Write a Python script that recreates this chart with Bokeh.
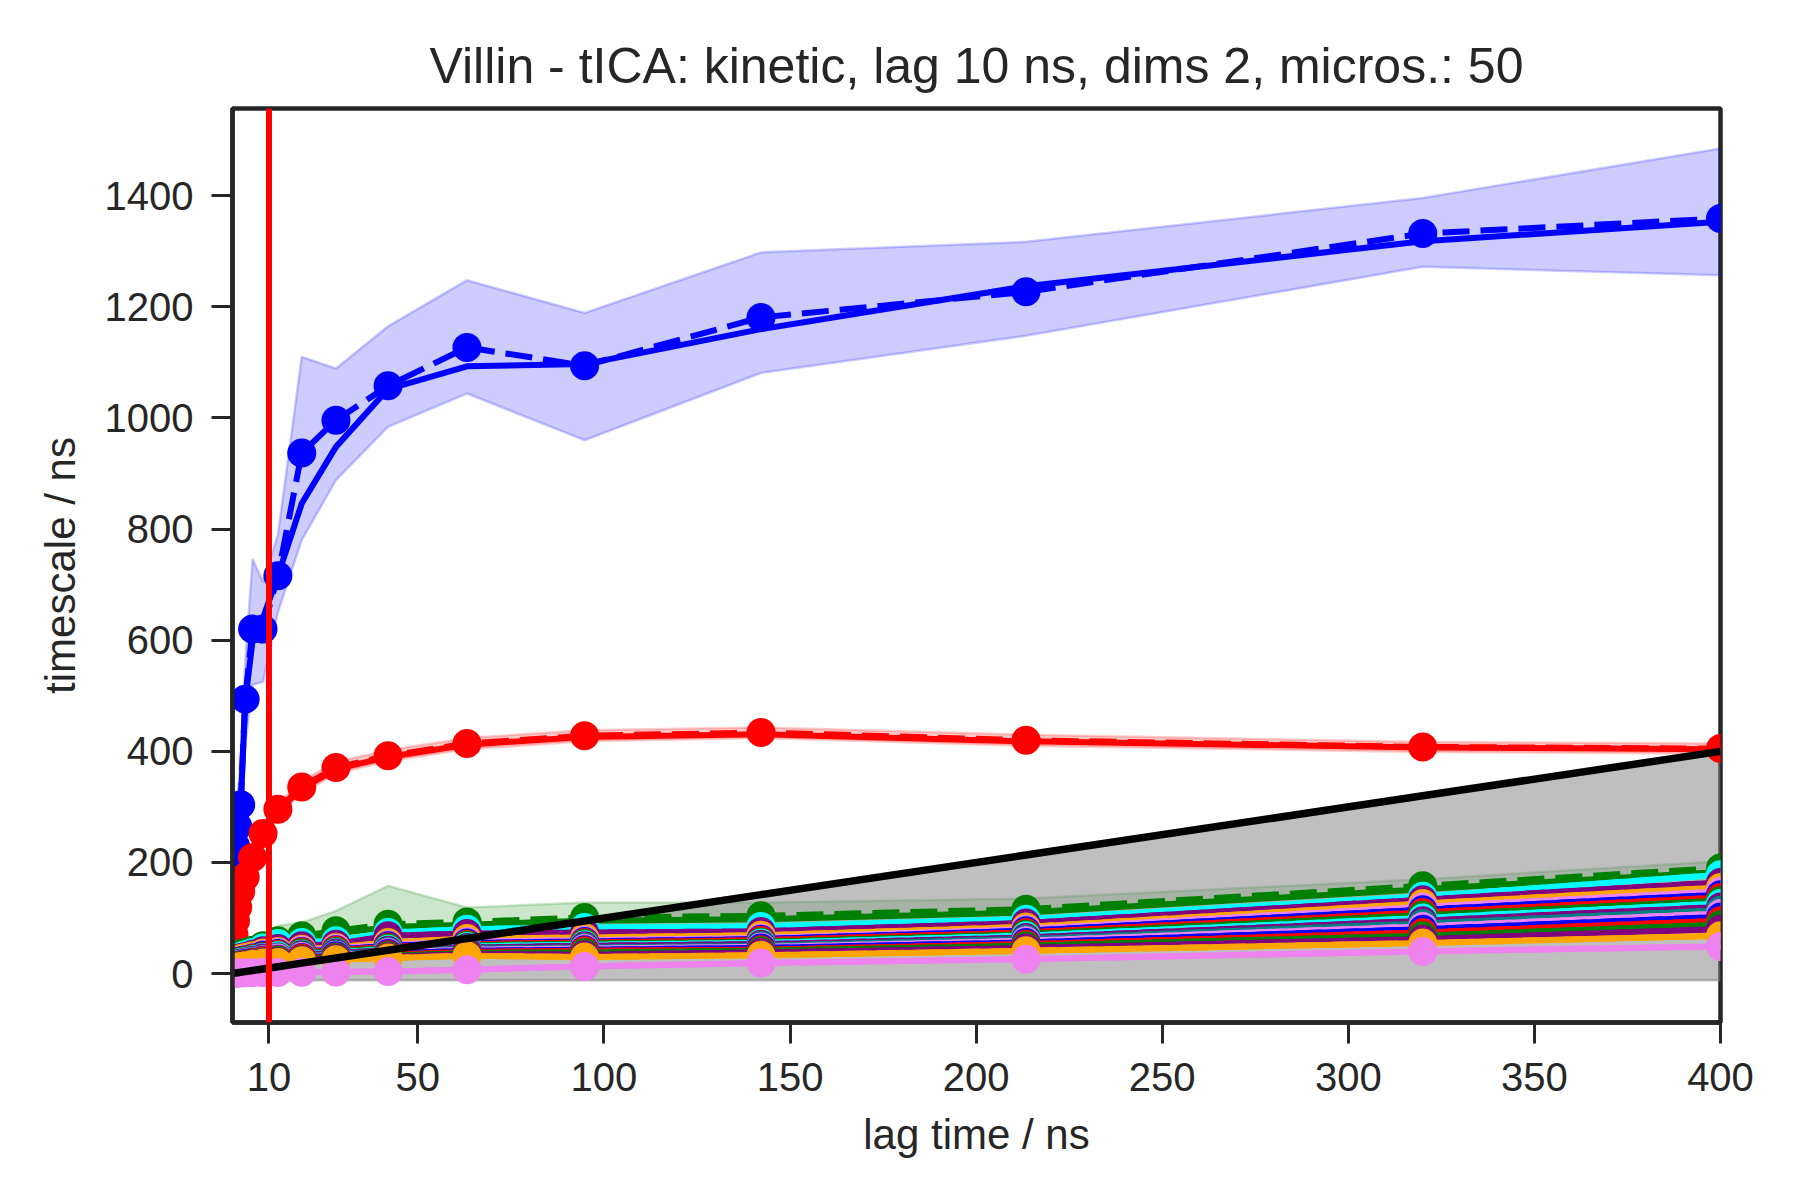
from bokeh.plotting import figure
from bokeh.models import Range1d, FixedTicker, Span
from bokeh.embed import file_html
from bokeh.resources import INLINE

# ---------------- data ----------------
LAGS = [0.2, 0.4, 0.6, 1.0, 1.6, 2.4, 3.6, 5.6, 8.4, 12.4, 18.8, 28.0, 42.0,
        63.2, 94.8, 142.2, 213.4, 320.0, 400.0]

BLUE_MEAN = [160, 180, 200, 230, 265, 304, 494, 620, 620, 716, 937, 996, 1058, 1127, 1094, 1181, 1227, 1332, 1359]
BLUE_MLE = [150, 172, 195, 225, 258, 300, 488, 600, 640, 716, 846, 948, 1052, 1093, 1097, 1160, 1237, 1318, 1353]
BLUE_LO = [110, 130, 150, 180, 205, 240, 410, 520, 525, 650, 780, 888, 984, 1044, 960, 1081, 1148, 1272, 1257]
BLUE_HI = [210, 230, 255, 285, 320, 380, 560, 746, 705, 790, 1110, 1089, 1165, 1248, 1189, 1298, 1317, 1396, 1485]

RED_MEAN = [25, 50, 70, 95, 120, 148, 174, 209, 252, 296, 336, 371, 392, 414, 428, 434, 420, 408, 405]
RED_MLE = [24, 48, 68, 93, 118, 146, 172, 207, 250, 293, 333, 368, 390, 412, 426, 431, 418, 407, 404]
RED_LO = [18, 42, 62, 86, 110, 138, 164, 198, 240, 284, 324, 360, 382, 404, 418, 424, 410, 399, 396]
RED_HI = [32, 58, 78, 104, 130, 158, 184, 220, 262, 306, 346, 381, 402, 424, 438, 443, 430, 417, 414]

GREEN_MEAN = [25, 28, 30, 32, 34, 36, 38, 42, 50, 59, 68, 77, 89, 93, 101, 104, 116, 158, 190]
GREEN_MLE = [24, 27, 29, 31, 33, 35, 37, 40, 47, 55, 63, 72, 84, 88, 95, 98, 110, 152, 183]
GREEN_LO = [15, 18, 20, 22, 24, 26, 28, 30, 33, 38, 45, 50, 55, 65, 75, 80, 90, 130, 160]
GREEN_HI = [35, 38, 41, 44, 46, 48, 52, 55, 55, 86, 92, 113, 158, 119, 128, 128, 135, 170, 202]

CYAN_TS = [20, 23, 25, 27, 29, 31, 34, 38, 46, 54, 56, 59, 74, 80, 83, 85, 98, 139, 178]
PURPLE_TS = [18, 21, 23, 25, 27, 29, 31, 35, 41, 45, 50, 53, 68, 72, 74, 76, 91, 133, 164]
ORANGE_TS = [16, 19, 21, 23, 25, 27, 29, 32, 37, 40, 44, 47, 56, 63, 65, 69, 84, 126, 155]

INNER_TS = [
    [14, 16, 18, 20, 22, 24, 26, 29, 34, 38, 42, 45, 52, 58, 60, 64, 80, 120, 148],
    [13, 15, 17, 19, 21, 23, 25, 28, 33, 36, 40, 43, 50, 55, 58, 62, 77, 115, 142],
    [13, 15, 16, 18, 20, 22, 24, 27, 31, 35, 39, 42, 48, 53, 56, 60, 74, 110, 137],
    [12, 14, 16, 17, 19, 21, 23, 26, 30, 33, 37, 40, 46, 51, 54, 57, 71, 105, 131],
    [12, 13, 15, 17, 18, 20, 22, 25, 29, 32, 35, 38, 44, 49, 52, 55, 68, 100, 126],
    [11, 13, 14, 16, 17, 19, 21, 24, 28, 30, 34, 37, 42, 47, 50, 53, 65, 95, 120],
    [10, 12, 14, 15, 17, 18, 20, 23, 26, 29, 32, 35, 40, 45, 47, 50, 62, 90, 114],
    [10, 11, 13, 14, 16, 17, 19, 22, 25, 28, 31, 33, 38, 43, 45, 48, 59, 85, 108],
    [9, 11, 12, 14, 15, 16, 18, 21, 24, 26, 29, 32, 36, 41, 43, 46, 56, 80, 102],
    [9, 10, 12, 13, 14, 16, 17, 20, 23, 25, 28, 30, 34, 39, 41, 43, 53, 74, 95],
    [8, 10, 11, 12, 14, 15, 16, 19, 21, 24, 26, 29, 32, 37, 38, 41, 50, 68, 88],
    [8, 9, 10, 12, 13, 14, 15, 18, 20, 22, 25, 27, 30, 35, 34, 38, 46, 62, 80],
    [7, 8, 10, 11, 12, 13, 14, 17, 19, 20, 23, 25, 28, 32, 30, 33, 41, 55, 68],
]
INNER_COLORS = ["violet", "blue", "red", "green", "cyan", "purple", "teal",
                "violet", "blue", "red", "green", "purple", "orange"]

LAST_TS = [0.3, 0.5, 0.6, 0.8, 1.0, 1.2, 1.4, 1.6, 1.8, 2.0, 2.5, 3.0, 4.0, 7.0, 13.0, 19.0, 26.0, 40.0, 49.0]

GRAY_BOTTOM = -12
CHOSEN_LAG = 10
X_TICKS = [10, 50, 100, 150, 200, 250, 300, 350, 400]
Y_TICKS = [0, 200, 400, 600, 800, 1000, 1200, 1400]

TITLE = "Villin - tICA: kinetic, lag 10 ns, dims 2, micros.: 50"
XLABEL = "lag time / ns"
YLABEL = "timescale / ns"

# ---------------- styling ----------------
FONT = "Liberation Sans"
TXT = "#262626"
LW = 6
MS = 29
DASH = "27 11"

p = figure(width=1784, height=1184, output_backend="svg", toolbar_location=None,
           x_range=Range1d(LAGS[0], LAGS[-1]), y_range=Range1d(-88, 1557),
           min_border_left=232, min_border_right=64, min_border_top=108,
           min_border_bottom=162, background_fill_color="white",
           border_fill_color="white")

p.title.text = TITLE
p.title.align = "center"
p.title.text_font = FONT
p.title.text_font_size = "50px"
p.title.text_font_style = "normal"
p.title.text_color = TXT
p.title.standoff = 30

p.xgrid.visible = False
p.ygrid.visible = False
p.outline_line_color = TXT
p.outline_line_width = 4.5
p.outline_line_alpha = 1.0

p.xaxis.ticker = FixedTicker(ticks=X_TICKS)
p.yaxis.ticker = FixedTicker(ticks=Y_TICKS)
for ax in (p.xaxis[0], p.yaxis[0]):
    ax.axis_line_color = TXT
    ax.axis_line_width = 4.5
    ax.major_tick_line_color = TXT
    ax.major_tick_line_width = 3
    ax.major_tick_out = 21
    ax.major_tick_in = 0
    ax.minor_tick_line_color = None
    ax.major_label_text_font = FONT
    ax.major_label_text_font_size = "40px"
    ax.major_label_text_color = TXT
    ax.axis_label_text_font = FONT
    ax.axis_label_text_font_size = "42px"
    ax.axis_label_text_font_style = "normal"
    ax.axis_label_text_color = TXT
p.xaxis.axis_label = XLABEL
p.yaxis.axis_label = YLABEL
p.xaxis.major_label_standoff = 19
p.xaxis.axis_label_standoff = 17
p.yaxis.major_label_standoff = 18
p.yaxis.axis_label_standoff = 18

# ---------------- confidence bands (under the lines) ----------------
for lo, hi, col in ((BLUE_LO, BLUE_HI, "blue"), (RED_LO, RED_HI, "red"),
                    (GREEN_LO, GREEN_HI, "green")):
    p.varea(x=LAGS, y1=lo, y2=hi, fill_color=col, fill_alpha=0.2)
    p.line(x=LAGS, y=lo, line_color=col, line_alpha=0.2, line_width=2.5)
    p.line(x=LAGS, y=hi, line_color=col, line_alpha=0.2, line_width=2.5)

# infeasible region (lag >= timescale)
p.varea(x=LAGS, y1=[GRAY_BOTTOM] * len(LAGS), y2=LAGS, fill_color="grey", fill_alpha=0.5)
p.line(x=LAGS, y=[GRAY_BOTTOM] * len(LAGS), line_color="grey", line_alpha=0.5, line_width=2.5)

# ---------------- timescale lines ----------------
def draw(mle, mean, col):
    p.line(x=LAGS, y=mle, line_color=col, line_width=LW, line_join="round")
    p.line(x=LAGS, y=mean, line_color=col, line_width=LW, line_dash=DASH, line_join="round")
    p.scatter(x=LAGS, y=mean, size=MS, fill_color=col, line_color=None, marker="circle")

draw(BLUE_MLE, BLUE_MEAN, "blue")
draw(RED_MLE, RED_MEAN, "red")
draw(GREEN_MLE, GREEN_MEAN, "green")
draw(CYAN_TS, CYAN_TS, "cyan")
draw(PURPLE_TS, PURPLE_TS, "purple")
draw(ORANGE_TS, ORANGE_TS, "orange")
for ts, col in zip(INNER_TS, INNER_COLORS):
    draw(ts, ts, col)
draw(LAST_TS, LAST_TS, "violet")

# lag == timescale line
p.line(x=LAGS, y=LAGS, line_color="black", line_width=7.5)

# chosen lag time
p.add_layout(Span(location=CHOSEN_LAG, dimension="height", line_color="red", line_width=6))

open("out.html", "w").write(file_html(p, INLINE))
